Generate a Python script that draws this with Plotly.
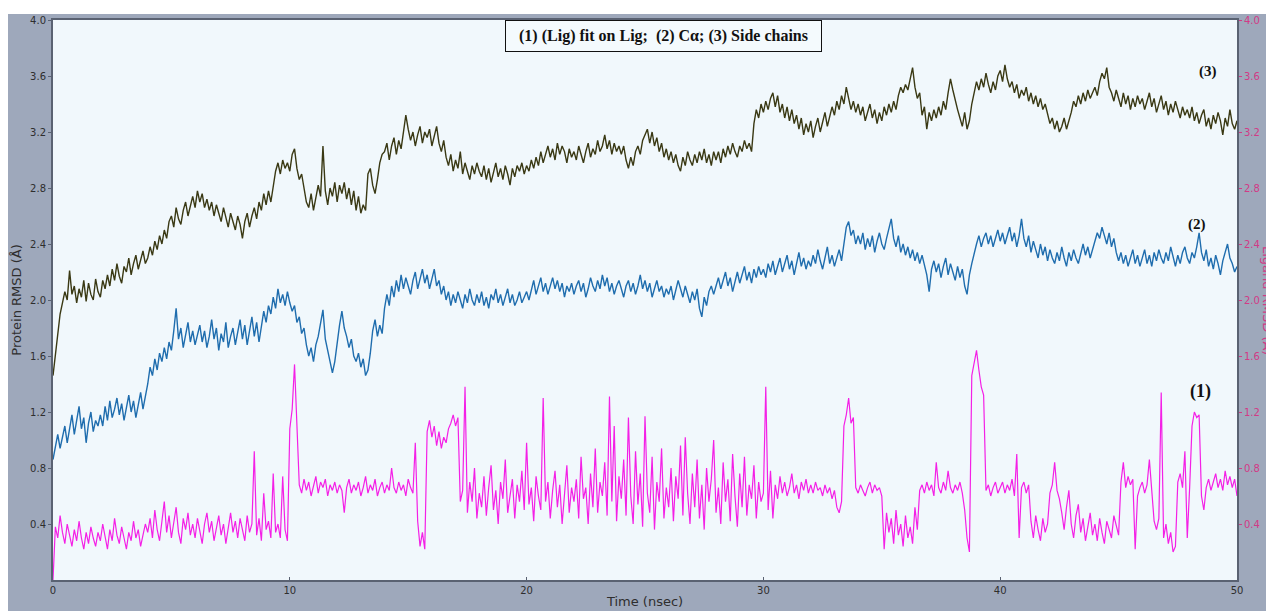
import numpy as np
import plotly.graph_objects as go

# Side chains RMSD (3), read every 0.1 ns from 0 to 50 ns
side_chains = [
    1.46, 1.60, 1.76, 1.90, 1.98, 2.06, 2.00, 2.21, 2.04, 2.10, 1.98, 2.08, 2.02, 2.14, 1.99, 2.12, 2.04, 2.00, 2.15, 2.06,
    2.02, 2.14, 2.08, 2.18, 2.10, 2.22, 2.14, 2.26, 2.17, 2.12, 2.24, 2.20, 2.30, 2.18, 2.26, 2.32, 2.22, 2.28, 2.35, 2.26,
    2.30, 2.38, 2.32, 2.42, 2.36, 2.46, 2.40, 2.50, 2.44, 2.56, 2.60, 2.52, 2.66, 2.58, 2.54, 2.64, 2.70, 2.60, 2.68, 2.74,
    2.66, 2.78, 2.70, 2.76, 2.66, 2.72, 2.64, 2.70, 2.60, 2.68, 2.62, 2.56, 2.66, 2.58, 2.52, 2.62, 2.56, 2.50, 2.60, 2.54,
    2.44, 2.56, 2.62, 2.52, 2.60, 2.66, 2.58, 2.70, 2.64, 2.76, 2.68, 2.78, 2.70, 2.82, 2.92, 2.98, 2.90, 3.00, 2.94, 2.98,
    2.92, 3.04, 3.08, 2.94, 2.86, 2.90, 2.80, 2.70, 2.66, 2.76, 2.64, 2.72, 2.82, 2.74, 3.10, 2.78, 2.68, 2.80, 2.74, 2.84,
    2.70, 2.82, 2.76, 2.84, 2.72, 2.80, 2.68, 2.78, 2.64, 2.74, 2.62, 2.68, 2.64, 2.90, 2.94, 2.82, 2.76, 2.86, 2.98, 3.04,
    3.06, 3.12, 3.00, 3.10, 3.16, 3.04, 3.14, 3.08, 3.20, 3.32, 3.22, 3.14, 3.20, 3.10, 3.18, 3.24, 3.12, 3.20, 3.16, 3.22,
    3.10, 3.18, 3.24, 3.12, 3.06, 3.14, 3.02, 2.96, 3.04, 2.92, 3.00, 2.94, 3.06, 2.90, 2.98, 2.92, 2.86, 2.96, 2.90, 2.98,
    2.92, 2.88, 2.96, 2.86, 2.94, 2.84, 2.92, 2.98, 2.88, 2.94, 2.86, 2.96, 2.90, 2.82, 2.94, 2.88, 2.96, 2.92, 2.98, 2.90,
    2.96, 2.92, 3.00, 2.94, 3.02, 2.96, 3.06, 2.98, 3.04, 3.10, 3.02, 3.08, 3.00, 3.12, 3.04, 3.10, 3.06, 2.98, 3.08, 3.02,
    3.06, 3.00, 3.10, 3.04, 2.98, 3.06, 3.12, 3.02, 3.08, 3.04, 3.14, 3.06, 3.10, 3.18, 3.08, 3.14, 3.04, 3.12, 3.06, 3.10,
    3.04, 3.10, 3.00, 2.94, 3.02, 2.96, 3.06, 3.10, 3.04, 3.14, 3.18, 3.22, 3.12, 3.20, 3.10, 3.16, 3.06, 3.12, 3.02, 3.08,
    3.00, 3.06, 2.98, 3.04, 2.96, 2.92, 3.02, 2.96, 3.06, 3.00, 2.96, 3.04, 2.98, 3.06, 3.00, 3.08, 2.98, 3.04, 2.96, 3.06,
    3.00, 3.06, 2.98, 3.08, 3.02, 3.10, 3.04, 3.12, 3.06, 3.02, 3.10, 3.06, 3.14, 3.08, 3.12, 3.06, 3.26, 3.36, 3.30, 3.40,
    3.34, 3.42, 3.36, 3.44, 3.48, 3.38, 3.46, 3.34, 3.40, 3.30, 3.38, 3.28, 3.36, 3.26, 3.32, 3.22, 3.30, 3.18, 3.26, 3.20,
    3.28, 3.16, 3.24, 3.30, 3.20, 3.28, 3.34, 3.24, 3.30, 3.38, 3.32, 3.42, 3.36, 3.46, 3.40, 3.52, 3.44, 3.36, 3.42, 3.34,
    3.40, 3.32, 3.38, 3.28, 3.34, 3.40, 3.30, 3.36, 3.26, 3.34, 3.28, 3.38, 3.32, 3.40, 3.34, 3.42, 3.36, 3.46, 3.52, 3.48,
    3.54, 3.50, 3.58, 3.66, 3.52, 3.44, 3.48, 3.32, 3.38, 3.22, 3.34, 3.28, 3.36, 3.30, 3.38, 3.32, 3.42, 3.36, 3.48, 3.58,
    3.50, 3.42, 3.36, 3.30, 3.24, 3.34, 3.22, 3.28, 3.40, 3.48, 3.56, 3.50, 3.58, 3.52, 3.62, 3.54, 3.48, 3.56, 3.50, 3.60,
    3.64, 3.56, 3.68, 3.58, 3.52, 3.56, 3.48, 3.54, 3.44, 3.50, 3.46, 3.52, 3.42, 3.48, 3.40, 3.46, 3.38, 3.44, 3.36, 3.40,
    3.32, 3.26, 3.30, 3.22, 3.28, 3.20, 3.24, 3.30, 3.22, 3.28, 3.34, 3.42, 3.38, 3.46, 3.40, 3.48, 3.42, 3.50, 3.44, 3.48,
    3.52, 3.46, 3.56, 3.62, 3.58, 3.66, 3.52, 3.48, 3.42, 3.50, 3.44, 3.38, 3.48, 3.40, 3.46, 3.36, 3.44, 3.38, 3.46, 3.40,
    3.44, 3.36, 3.42, 3.48, 3.38, 3.44, 3.34, 3.40, 3.46, 3.36, 3.42, 3.32, 3.40, 3.34, 3.42, 3.36, 3.30, 3.38, 3.32, 3.36,
    3.30, 3.38, 3.28, 3.34, 3.26, 3.32, 3.36, 3.24, 3.30, 3.22, 3.32, 3.26, 3.34, 3.28, 3.18, 3.30, 3.24, 3.36, 3.26, 3.22,
    3.28,
]

# C-alpha RMSD (2)
c_alpha = [
    0.86, 0.96, 1.04, 0.94, 1.02, 1.10, 0.98, 1.08, 1.18, 1.04, 1.14, 1.24, 1.08, 1.16, 0.98, 1.12, 1.20, 1.06, 1.14, 1.10,
    1.18, 1.10, 1.24, 1.14, 1.28, 1.16, 1.22, 1.30, 1.18, 1.26, 1.14, 1.24, 1.32, 1.20, 1.28, 1.16, 1.26, 1.34, 1.22, 1.30,
    1.40, 1.52, 1.46, 1.58, 1.50, 1.62, 1.56, 1.66, 1.58, 1.70, 1.64, 1.78, 1.94, 1.72, 1.80, 1.66, 1.76, 1.84, 1.70, 1.78,
    1.68, 1.76, 1.82, 1.70, 1.78, 1.66, 1.74, 1.86, 1.72, 1.80, 1.64, 1.76, 1.70, 1.84, 1.66, 1.74, 1.80, 1.68, 1.76, 1.86,
    1.72, 1.82, 1.68, 1.78, 1.88, 1.74, 1.84, 1.70, 1.80, 1.92, 1.84, 1.96, 1.90, 2.02, 1.94, 2.08, 1.98, 2.04, 1.96, 2.06,
    1.98, 1.92, 1.96, 1.84, 1.88, 1.76, 1.80, 1.68, 1.60, 1.66, 1.56, 1.68, 1.74, 1.84, 1.93, 1.72, 1.64, 1.56, 1.48, 1.56,
    1.70, 1.82, 1.92, 1.80, 1.74, 1.66, 1.72, 1.60, 1.56, 1.62, 1.52, 1.58, 1.46, 1.50, 1.62, 1.78, 1.86, 1.74, 1.82, 1.76,
    1.94, 2.04, 1.96, 2.10, 2.02, 2.14, 2.06, 2.18, 2.08, 2.16, 2.10, 2.04, 2.14, 2.20, 2.08, 2.16, 2.22, 2.12, 2.18, 2.08,
    2.16, 2.22, 2.10, 2.14, 2.04, 2.10, 2.00, 2.06, 1.96, 2.04, 1.98, 2.06, 2.00, 1.94, 2.04, 1.98, 2.08, 2.00, 1.96, 2.04,
    1.98, 2.06, 1.96, 2.02, 1.94, 2.04, 2.00, 2.08, 1.98, 2.04, 1.96, 2.02, 2.08, 1.98, 2.04, 1.96, 2.00, 2.06, 1.98, 2.02,
    2.06, 2.00, 2.08, 2.14, 2.04, 2.10, 2.16, 2.06, 2.12, 2.04, 2.10, 2.16, 2.08, 2.14, 2.06, 2.12, 2.02, 2.10, 2.06, 2.12,
    2.04, 2.10, 2.14, 2.06, 2.12, 2.02, 2.08, 2.16, 2.10, 2.06, 2.14, 2.08, 2.18, 2.10, 2.16, 2.06, 2.12, 2.04, 2.10, 2.14,
    2.08, 2.02, 2.10, 2.14, 2.06, 2.12, 2.04, 2.10, 2.18, 2.08, 2.14, 2.06, 2.12, 2.02, 2.08, 2.14, 2.06, 2.10, 2.02, 2.08,
    2.04, 2.10, 2.00, 2.06, 2.14, 2.08, 2.02, 2.10, 2.04, 1.98, 2.06, 2.00, 2.08, 1.94, 1.88, 2.02, 1.96, 2.06, 2.10, 2.04,
    2.10, 2.16, 2.08, 2.14, 2.20, 2.10, 2.16, 2.06, 2.14, 2.20, 2.12, 2.18, 2.24, 2.14, 2.20, 2.12, 2.22, 2.16, 2.24, 2.18,
    2.22, 2.16, 2.26, 2.20, 2.28, 2.18, 2.24, 2.30, 2.20, 2.26, 2.32, 2.22, 2.28, 2.18, 2.26, 2.34, 2.24, 2.30, 2.22, 2.28,
    2.24, 2.32, 2.26, 2.36, 2.28, 2.22, 2.30, 2.38, 2.26, 2.32, 2.24, 2.30, 2.36, 2.28, 2.42, 2.52, 2.56, 2.46, 2.50, 2.40,
    2.46, 2.40, 2.48, 2.36, 2.44, 2.38, 2.46, 2.34, 2.42, 2.48, 2.40, 2.36, 2.44, 2.50, 2.58, 2.44, 2.38, 2.46, 2.34, 2.40,
    2.32, 2.38, 2.30, 2.36, 2.28, 2.34, 2.26, 2.32, 2.24, 2.18, 2.06, 2.22, 2.28, 2.20, 2.26, 2.16, 2.24, 2.30, 2.18, 2.26,
    2.20, 2.14, 2.24, 2.16, 2.22, 2.10, 2.04, 2.18, 2.26, 2.34, 2.40, 2.46, 2.38, 2.44, 2.48, 2.40, 2.46, 2.38, 2.44, 2.50,
    2.42, 2.48, 2.40, 2.46, 2.52, 2.42, 2.48, 2.38, 2.46, 2.58, 2.44, 2.38, 2.46, 2.34, 2.42, 2.36, 2.30, 2.40, 2.32, 2.38,
    2.28, 2.36, 2.30, 2.26, 2.34, 2.28, 2.38, 2.30, 2.24, 2.34, 2.28, 2.36, 2.30, 2.26, 2.34, 2.40, 2.32, 2.38, 2.30, 2.36,
    2.42, 2.48, 2.44, 2.52, 2.46, 2.40, 2.48, 2.38, 2.44, 2.34, 2.28, 2.34, 2.26, 2.32, 2.24, 2.30, 2.36, 2.26, 2.32, 2.24,
    2.30, 2.36, 2.26, 2.32, 2.24, 2.34, 2.28, 2.36, 2.30, 2.26, 2.34, 2.28, 2.38, 2.30, 2.24, 2.32, 2.26, 2.34, 2.38, 2.30,
    2.26, 2.34, 2.30, 2.38, 2.48, 2.34, 2.28, 2.36, 2.24, 2.30, 2.22, 2.32, 2.26, 2.18, 2.28, 2.34, 2.40, 2.30, 2.26, 2.20,
    2.24,
]

# Ligand RMSD, fit on ligand (1)
ligand = [
    0.00, 0.38, 0.30, 0.46, 0.34, 0.26, 0.40, 0.32, 0.24, 0.36, 0.28, 0.42, 0.30, 0.22, 0.34, 0.26, 0.38, 0.30, 0.24, 0.34,
    0.28, 0.40, 0.30, 0.22, 0.36, 0.28, 0.44, 0.32, 0.26, 0.38, 0.30, 0.22, 0.34, 0.28, 0.42, 0.30, 0.36, 0.24, 0.32, 0.40,
    0.34, 0.44, 0.30, 0.50, 0.36, 0.28, 0.42, 0.56, 0.34, 0.46, 0.30, 0.40, 0.52, 0.34, 0.26, 0.44, 0.36, 0.48, 0.32, 0.40,
    0.30, 0.44, 0.36, 0.26, 0.40, 0.48, 0.34, 0.42, 0.28, 0.36, 0.46, 0.32, 0.40, 0.26, 0.38, 0.48, 0.34, 0.42, 0.30, 0.44,
    0.36, 0.28, 0.46, 0.34, 0.40, 0.92, 0.32, 0.44, 0.28, 0.62, 0.36, 0.42, 0.30, 0.76, 0.34, 0.40, 0.30, 0.74, 0.36, 0.28,
    1.08, 1.22, 1.54, 1.10, 0.68, 0.62, 0.72, 0.64, 0.70, 0.60, 0.68, 0.74, 0.62, 0.70, 0.66, 0.72, 0.60, 0.68, 0.64, 0.70,
    0.62, 0.68, 0.64, 0.48, 0.66, 0.72, 0.62, 0.68, 0.64, 0.70, 0.60, 0.66, 0.74, 0.62, 0.68, 0.64, 0.72, 0.60, 0.66, 0.70,
    0.62, 0.68, 0.64, 0.80, 0.66, 0.62, 0.70, 0.64, 0.68, 0.60, 0.72, 0.66, 0.62, 0.98, 0.42, 0.24, 0.34, 0.22, 1.06, 1.14,
    1.02, 1.10, 0.96, 1.06, 0.94, 1.02, 0.98, 1.08, 1.12, 1.18, 1.10, 1.16, 0.56, 0.64, 1.38, 0.48, 0.70, 0.56, 0.80, 0.44,
    0.62, 0.52, 0.74, 0.46, 0.66, 0.82, 0.50, 0.64, 0.40, 0.70, 0.58, 0.86, 0.48, 0.62, 0.72, 0.44, 0.68, 0.56, 0.78, 0.50,
    0.98, 0.54, 0.66, 0.42, 0.74, 0.60, 0.50, 1.30, 0.56, 0.70, 0.44, 0.64, 0.78, 0.52, 0.68, 0.40, 0.60, 0.82, 0.48, 0.66,
    0.56, 0.72, 0.44, 0.88, 0.58, 0.66, 0.40, 0.76, 0.52, 0.94, 0.48, 0.70, 0.60, 0.84, 0.46, 1.31, 0.56, 1.10, 0.42, 0.74,
    0.58, 0.86, 0.46, 1.16, 0.60, 0.40, 0.92, 0.54, 0.76, 0.38, 1.17, 0.62, 0.48, 0.88, 0.36, 0.70, 0.56, 0.94, 0.44, 0.66,
    0.52, 0.80, 0.42, 0.74, 0.58, 0.96, 0.46, 1.02, 0.62, 0.40, 0.76, 0.52, 0.86, 0.44, 0.68, 0.36, 0.80, 0.56, 0.72, 1.00,
    0.48, 0.66, 0.40, 0.84, 0.56, 0.72, 0.42, 0.90, 0.60, 0.38, 0.76, 0.52, 0.88, 0.46, 0.68, 0.58, 0.82, 0.44, 0.70, 0.56,
    0.62, 1.38, 0.50, 0.78, 0.44, 0.68, 0.58, 0.74, 0.62, 0.70, 0.60, 0.66, 0.76, 0.62, 0.68, 0.58, 0.70, 0.64, 0.72, 0.62,
    0.68, 0.62, 0.70, 0.64, 0.66, 0.60, 0.68, 0.62, 0.66, 0.58, 0.64, 0.52, 0.48, 0.56, 1.10, 1.18, 1.30, 1.12, 1.16, 0.66,
    0.62, 0.68, 0.64, 0.60, 0.66, 0.70, 0.62, 0.68, 0.64, 0.66, 0.60, 0.22, 0.48, 0.34, 0.44, 0.26, 0.50, 0.32, 0.40, 0.24,
    0.46, 0.30, 0.38, 0.26, 0.52, 0.36, 0.64, 0.68, 0.62, 0.70, 0.64, 0.68, 0.60, 0.84, 0.66, 0.62, 0.70, 0.64, 0.78, 0.66,
    0.62, 0.68, 0.64, 0.70, 0.62, 0.50, 0.30, 0.20, 1.46, 1.56, 1.64, 1.50, 1.38, 1.32, 0.64, 0.68, 0.60, 0.66, 0.70, 0.62,
    0.66, 0.70, 0.62, 0.68, 0.64, 0.72, 0.60, 0.90, 0.30, 0.66, 0.70, 0.62, 0.68, 0.42, 0.30, 0.46, 0.36, 0.28, 0.44, 0.34,
    0.40, 0.62, 0.68, 0.84, 0.64, 0.58, 0.48, 0.36, 0.52, 0.64, 0.40, 0.30, 0.46, 0.54, 0.34, 0.44, 0.28, 0.38, 0.48, 0.32,
    0.40, 0.28, 0.44, 0.34, 0.26, 0.42, 0.36, 0.30, 0.46, 0.38, 0.32, 0.70, 0.84, 0.66, 0.74, 0.68, 0.72, 0.22, 0.60, 0.66,
    0.70, 0.62, 0.68, 0.86, 0.64, 0.42, 0.36, 0.44, 1.34, 0.30, 0.40, 0.26, 0.34, 0.20, 0.24, 0.70, 0.76, 0.66, 0.92, 0.30,
    0.66, 1.10, 1.20, 1.16, 1.18, 0.60, 0.50, 0.66, 0.72, 0.64, 0.70, 0.76, 0.66, 0.72, 0.64, 0.78, 0.68, 0.74, 0.66, 0.72,
    0.60,
]

x_ticks = [0, 10, 20, 30, 40, 50]
y_ticks = [0.4, 0.8, 1.2, 1.6, 2.0, 2.4, 2.8, 3.2, 3.6, 4.0]
y_tick_labels = ["0.4", "0.8", "1.2", "1.6", "2.0", "2.4", "2.8", "3.2", "3.6", "4.0"]

t_side = np.linspace(0, 50, len(side_chains))
t_ca = np.linspace(0, 50, len(c_alpha))
t_lig = np.linspace(0, 50, len(ligand))

fig = go.Figure()
fig.add_trace(go.Scatter(x=t_side, y=side_chains, mode="lines",
                         line=dict(color="#3a3914", width=1.4), name="(3) Side chains"))
fig.add_trace(go.Scatter(x=t_ca, y=c_alpha, mode="lines",
                         line=dict(color="#1f6dae", width=1.4), name="(2) Cα"))
fig.add_trace(go.Scatter(x=t_lig, y=ligand, mode="lines", yaxis="y2",
                         line=dict(color="#f420e6", width=1.2), name="(1) Lig"))

axis_line = "#5a6272"
pink = "#d23a86"
tick_font = dict(family="DejaVu Sans", size=10, color="#2e2e2e")

# The page body adds an 8 px offset; margins place the plot at x 53-1237, y 20-580 on the page.
fig.update_layout(
    width=1274, height=611,
    margin=dict(l=45, r=45, t=12, b=39),
    paper_bgcolor="#9ea8bb",
    plot_bgcolor="#f1f8fc",
    showlegend=False,
    xaxis=dict(range=[0, 50], tickvals=x_ticks, ticktext=[str(v) for v in x_ticks],
               showgrid=False, zeroline=False, showline=True, linecolor=axis_line,
               linewidth=2, mirror=True, ticks="inside", ticklen=3, tickcolor=axis_line,
               tickfont=tick_font, automargin=False,
               title=dict(text="Time (nsec)", standoff=2,
                          font=dict(family="DejaVu Sans", size=13, color="#2e2e2e"))),
    yaxis=dict(range=[0, 4], tickvals=y_ticks, ticktext=y_tick_labels,
               showgrid=False, zeroline=False, showline=True, linecolor=axis_line,
               linewidth=2, ticks="outside", ticklen=3, tickcolor=axis_line,
               tickfont=tick_font, automargin=False,
               title=dict(text="Protein RMSD (Å)", standoff=6,
                          font=dict(family="DejaVu Sans", size=13, color="#2e2e2e"))),
    yaxis2=dict(range=[0, 4], overlaying="y", side="right", tickvals=y_ticks,
                ticktext=y_tick_labels, showgrid=False, zeroline=False, showline=True,
                linecolor=axis_line, linewidth=2, ticks="outside", ticklen=3,
                tickcolor=pink, automargin=False,
                tickfont=dict(family="DejaVu Sans", size=10, color=pink)),
)

# white strip at the very top of the picture
fig.add_shape(type="rect", xref="paper", yref="paper", x0=-0.05, x1=1.05,
              y0=1 + 6 / 560, y1=1 + 13 / 560, fillcolor="white", line=dict(width=0),
              layer="below")

fig.add_annotation(xref="paper", yref="paper", x=(1260 - 45) / 1184, y=0.50,
                   xanchor="center", yanchor="middle",
                   text="Ligand RMSD (Å)", textangle=90, showarrow=False,
                   font=dict(family="DejaVu Sans", size=13, color=pink))

fig.add_annotation(xref="paper", yref="paper", x=(663.5 - 53) / 1184, y=(580 - 36) / 560,
                   xanchor="center", yanchor="middle",
                   text="<b>(1) (Lig) fit on Lig;  (2) Cα; (3) Side chains</b>",
                   showarrow=False, bordercolor="#111111", borderwidth=1, borderpad=2,
                   width=311, height=26, bgcolor="#f4fafd",
                   font=dict(family="Liberation Serif", size=16, color="#111111"))

for lbl, xv, yv, fs in [("(3)", 48.78, 3.63, 15), ("(2)", 48.3, 2.54, 15), ("(1)", 48.44, 1.35, 18)]:
    fig.add_annotation(x=xv, y=yv, text="<b>" + lbl + "</b>", showarrow=False,
                       xanchor="center", yanchor="middle",
                       font=dict(family="Liberation Serif", size=fs, color="#111111"))

fig.write_html("out.html")
